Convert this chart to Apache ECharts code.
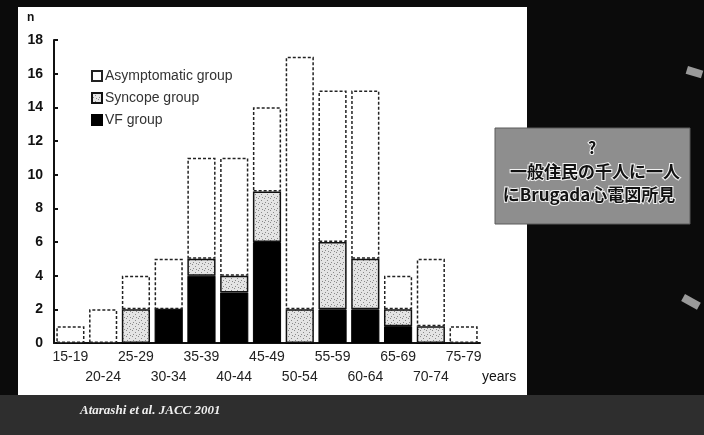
<!DOCTYPE html>
<html>
<head>
<meta charset="utf-8">
<script src="https://cdn.jsdelivr.net/npm/echarts@6/dist/echarts.min.js"></script>
<style>
  html, body { margin: 0; padding: 0; background: #0b0b0b; }
  #chart { width: 704px; height: 435px; }
</style>
</head>
<body>
<div id="chart"></div>
<script>
// age groups and counts per group
const ageGroups = ['15-19', '20-24', '25-29', '30-34', '35-39', '40-44', '45-49',
  '50-54', '55-59', '60-64', '65-69', '70-74', '75-79'];
const vfGroup = [0, 0, 0, 2, 4, 3, 6, 0, 2, 2, 1, 0, 0];
const syncopeGroup = [0, 0, 2, 0, 1, 1, 3, 2, 4, 3, 1, 1, 0];
const asymptomaticGroup = [1, 2, 2, 3, 6, 7, 5, 15, 9, 10, 2, 4, 1];
const yTicks = [0, 2, 4, 6, 8, 10, 12, 14, 16, 18];

// stipple texture for syncope bars
const pat = document.createElement('canvas');
pat.width = 6;
pat.height = 6;
const pctx = pat.getContext('2d');
pctx.fillStyle = '#e4e4e4';
pctx.fillRect(0, 0, 6, 6);
pctx.fillStyle = '#8a8a8a';
[[0, 0], [3, 2], [1, 4], [4, 5]].forEach(([x, y]) => pctx.fillRect(x, y, 1, 1));
const syncopeFill = { image: pat, repeat: 'repeat' };

const chart = echarts.init(document.getElementById('chart'));

const labelFont = 'Liberation Sans';

chart.setOption({
  animation: false,
  backgroundColor: '#0b0b0b',
  graphic: [
    // bottom strip
    { type: 'rect', z: -10, shape: { x: 0, y: 395, width: 704, height: 40 }, style: { fill: '#2e2e2e' } },
    // white panel
    { type: 'rect', z: -5, shape: { x: 18, y: 7, width: 509, height: 388 }, style: { fill: '#ffffff' } },
    { type: 'text', left: 27, top: 12, style: { text: 'n', font: 'bold 12px "Liberation Sans"', fill: '#111' } },
    { type: 'text', left: 482, top: 370, style: { text: 'years', font: '14px "Liberation Sans"', fill: '#111' } },
    {
      type: 'text', left: 80, top: 404,
      style: { text: 'Atarashi et al. JACC 2001', font: 'italic bold 13px "Liberation Serif"', fill: '#f0f0f0' }
    },
    // Japanese note box
    { type: 'rect', shape: { x: 495, y: 128, width: 195, height: 96 }, style: { fill: '#8e8e8e', stroke: '#5a5a5a', lineWidth: 1 } },
    {
      type: 'text', x: 592, y: 148,
      style: { text: '?', align: 'center', verticalAlign: 'middle', font: 'bold 16px "Noto Sans CJK JP"', fill: '#111', stroke: '#f2f2f2', lineWidth: 2 }
    },
    {
      type: 'text', x: 595, y: 172,
      style: { text: '一般住民の千人に一人', align: 'center', verticalAlign: 'middle', font: 'bold 17px "Noto Sans CJK JP"', fill: '#111', stroke: '#f2f2f2', lineWidth: 2 }
    },
    {
      type: 'text', x: 589, y: 195,
      style: { text: 'にBrugada心電図所見', align: 'center', verticalAlign: 'middle', font: 'bold 17px "Noto Sans CJK JP"', fill: '#111', stroke: '#f2f2f2', lineWidth: 2 }
    },
    // scraps at the right edge
    { type: 'rect', rotation: -0.3, x: 688, y: 66, shape: { x: 0, y: 0, width: 16, height: 8 }, style: { fill: '#9a9a9a' } },
    { type: 'rect', rotation: -0.5, x: 685, y: 294, shape: { x: 0, y: 0, width: 18, height: 8 }, style: { fill: '#9a9a9a' } }
  ],
  legend: {
    orient: 'vertical',
    left: 86,
    top: 64,
    itemWidth: 10,
    itemHeight: 10,
    itemGap: 8,
    icon: 'rect',
    data: ['Asymptomatic group', 'Syncope group', 'VF group'],
    textStyle: { fontFamily: labelFont, fontSize: 14, color: '#333', padding: [0, 0, 0, -2] }
  },
  grid: { left: 54, right: 224, top: 40, bottom: 92 },
  xAxis: {
    type: 'category',
    data: ageGroups,
    axisLine: { lineStyle: { color: '#111', width: 2 } },
    axisTick: { show: false },
    axisLabel: {
      interval: 0,
      margin: 4,
      fontFamily: labelFont,
      fontSize: 14,
      color: '#222',
      lineHeight: 20,
      formatter: (v, i) => (i % 2 ? '\n' + v : v)
    }
  },
  yAxis: {
    type: 'value',
    min: 0,
    max: 18,
    interval: 2,
    splitLine: { show: false },
    axisLine: { show: true, lineStyle: { color: '#111', width: 2 } },
    axisTick: { show: true, inside: true, length: 4, lineStyle: { color: '#111', width: 2 } },
    axisLabel: {
      margin: 11,
      fontFamily: labelFont,
      fontWeight: 'bold',
      fontSize: 14,
      color: '#111',
      formatter: (v) => (yTicks.includes(v) ? String(v) : '')
    }
  },
  series: [
    {
      name: 'VF group',
      type: 'bar',
      stack: 'n',
      barCategoryGap: '14%',
      data: vfGroup,
      itemStyle: { color: '#000', borderColor: '#000', borderWidth: 1 }
    },
    {
      name: 'Syncope group',
      type: 'bar',
      stack: 'n',
      data: syncopeGroup,
      itemStyle: { color: syncopeFill, borderColor: '#111', borderWidth: 1.5 }
    },
    {
      name: 'Asymptomatic group',
      type: 'bar',
      stack: 'n',
      data: asymptomaticGroup,
      itemStyle: { color: '#fff', borderColor: '#222', borderWidth: 1.5, borderType: [3, 2] }
    }
  ]
});
</script>
</body>
</html>
